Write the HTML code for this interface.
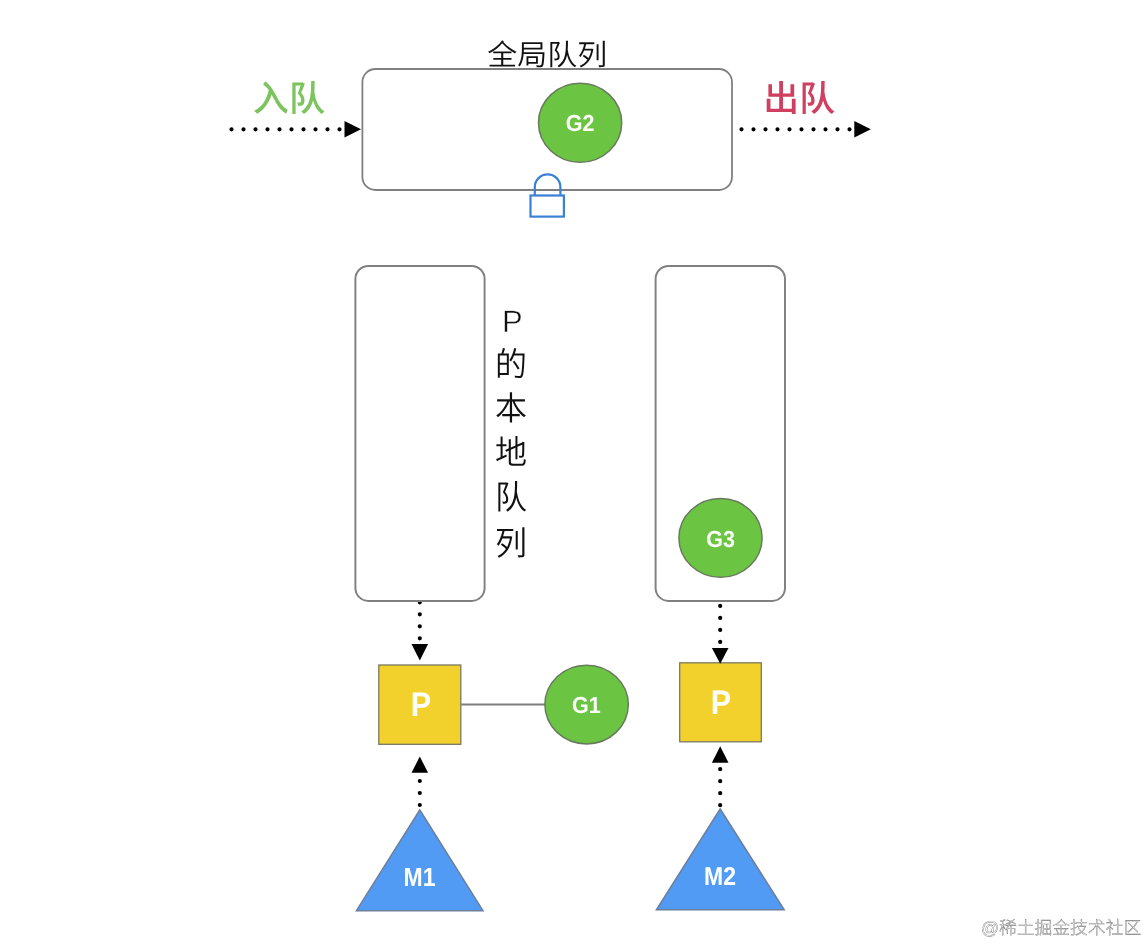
<!DOCTYPE html>
<html lang="zh-CN">
<head>
<meta charset="utf-8">
<title>GMP 调度模型</title>
<style>
html,body{margin:0;padding:0;background:#fff;}
body{width:1148px;height:944px;overflow:hidden;position:relative;font-family:"Liberation Sans","Noto Sans CJK SC",sans-serif;}
svg{position:absolute;left:0;top:0;display:block;filter:contrast(1);}
text{text-rendering:geometricPrecision;}
text{font-family:"Liberation Sans","Noto Sans CJK SC",sans-serif;}
.lat{font-weight:700;fill:#fdfffb;text-anchor:middle;}
.thin{font-weight:350;fill:#111;text-anchor:middle;}
.box{fill:#fff;stroke:#808080;stroke-width:1.95;}
.dot{stroke:#000;stroke-width:4.2;stroke-linecap:round;stroke-dasharray:0 12;fill:none;}
.head{fill:#000;}
.g{fill:#6cc443;stroke:#687a5e;stroke-width:1.5;}
.p{fill:#f3d12d;stroke:#7c7862;stroke-width:1.3;}
.m{fill:#519bf4;stroke:#6c7f9c;stroke-width:1.5;stroke-linejoin:miter;}
</style>
</head>
<body>
<svg width="1148" height="944" viewBox="0 0 1148 944">
  <rect width="1148" height="944" fill="#fff"/>

  <!-- global queue -->
  <text class="thin" transform="translate(547.2 64.6) scale(1.032 1)" font-size="29">全局队列</text>
  <rect class="box" x="362.4" y="69" width="369.6" height="121" rx="13" ry="13" style="stroke-width:1.8"/>
  <ellipse class="g" cx="580.1" cy="122.8" rx="41.6" ry="39.5"/>
  <text class="lat" transform="translate(580 131.3) scale(1 1.08)" font-size="21.5">G2</text>

  <!-- lock -->
  <g fill="none" stroke="#3a80d6" stroke-width="2.2">
    <path d="M534.8 195.4 V187.2 A12.8 12.8 0 0 1 560.4 187.2 V195.4"/>
    <rect x="530.5" y="195.5" width="33.4" height="21.1" fill="#fff"/>
  </g>

  <!-- enqueue -->
  <text transform="translate(289 110.6) scale(1.05 1.03)" font-size="34.5" font-weight="500" text-anchor="middle" fill="#7dc45f">入队</text>
  <line class="dot" x1="231.5" y1="129.3" x2="342" y2="129.3"/>
  <path class="head" d="M344.5 121 L361 129.3 L344.5 137.6 Z"/>

  <!-- dequeue -->
  <text transform="translate(799.2 110.8) scale(1.04 1.03)" font-size="34.5" font-weight="500" text-anchor="middle" fill="#cf3f60">出队</text>
  <line class="dot" x1="741.5" y1="129.3" x2="851" y2="129.3"/>
  <path class="head" d="M854.3 121 L870.8 129.3 L854.3 137.6 Z"/>

  <!-- dotted connectors (under the boxes) -->
  <line class="dot" x1="419.8" y1="602.3" x2="419.8" y2="642"/>
  <line class="dot" x1="720.2" y1="605.9" x2="720.2" y2="645"/>
  <line class="dot" x1="419.8" y1="781" x2="419.8" y2="806"/>
  <line class="dot" x1="720.2" y1="769.2" x2="720.2" y2="806"/>

  <!-- local queues -->
  <rect class="box" x="355.4" y="265.9" width="129.2" height="335" rx="13" ry="13"/>
  <rect class="box" x="655.6" y="265.9" width="129.4" height="335" rx="13" ry="13"/>
  <ellipse class="g" cx="720.5" cy="537.9" rx="41.6" ry="39.4"/>
  <text class="lat" transform="translate(720.5 546.6) scale(1 1.08)" font-size="21.5">G3</text>

  <g class="thin" font-size="32">
    <text x="512.3" y="332.3" font-size="31" stroke="#fff" stroke-width="0.5" style="paint-order:fill stroke">P</text>
    <text transform="translate(511 375.5) scale(1 1.04)">的</text>
    <text transform="translate(511 419.5) scale(1 1.04)">本</text>
    <text transform="translate(511 464.4) scale(1 1.04)">地</text>
    <text transform="translate(511 509.3) scale(1 1.04)">队</text>
    <text transform="translate(511 555.2) scale(1 1.04)">列</text>
  </g>

  <!-- left column -->
  <rect class="p" x="378.8" y="665" width="82" height="79.3"/>
  <path class="head" d="M411.5 644 L428.1 644 L419.8 660.5 Z"/>
  <text class="lat" transform="translate(420.8 716) scale(1 1.12)" font-size="30.5">P</text>
  <line x1="461.2" y1="704.5" x2="545" y2="704.5" stroke="#7d7d7d" stroke-width="1.9"/>
  <ellipse class="g" cx="586.6" cy="704.6" rx="41.7" ry="39.3"/>
  <text class="lat" transform="translate(586.4 712.7) scale(1 1.08)" font-size="21.5">G1</text>
  <path class="head" d="M411.5 772.8 L428.1 772.8 L419.8 756.6 Z"/>
  <path class="m" d="M419.8 810 L483 910.7 L356.4 910.7 Z"/>
  <text class="lat" transform="translate(419.5 886.3) scale(1 1.14)" font-size="23">M1</text>

  <!-- right column -->
  <rect class="p" x="679.7" y="662.8" width="81.6" height="79"/>
  <path class="head" d="M711.9 647.9 L728.5 647.9 L720.2 663.8 Z"/>
  <text class="lat" transform="translate(720.8 714.2) scale(1 1.12)" font-size="30.5">P</text>
  <path class="head" d="M711.9 762.8 L728.5 762.8 L720.2 746.3 Z"/>
  <path class="m" d="M720.2 809 L784.2 909.8 L656.4 909.8 Z"/>
  <text class="lat" transform="translate(720 885.3) scale(1 1.12)" font-size="23">M2</text>

  <!-- watermark -->
  <text x="1141.2" y="934.3" font-size="17.8" font-weight="300" text-anchor="end" fill="#fff" stroke="#787878" stroke-width="0.42">@稀土掘金技术社区</text>
</svg>
</body>
</html>
